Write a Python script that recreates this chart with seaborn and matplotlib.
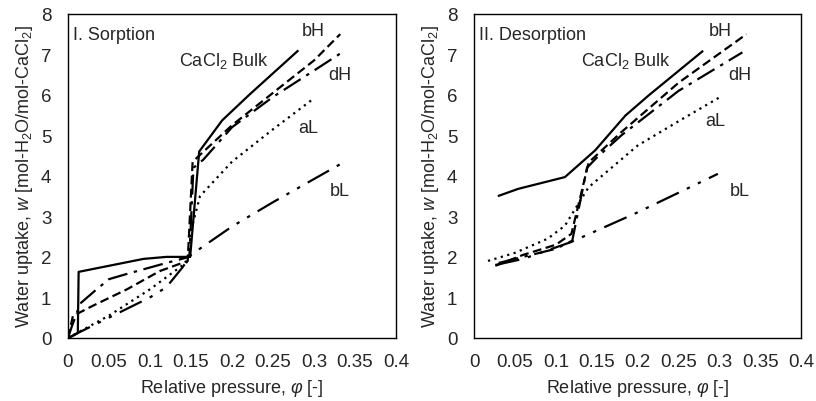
import matplotlib
matplotlib.use("Agg")
import matplotlib.pyplot as plt
import seaborn as sns

sns.set_style("white")
plt.rcParams['font.family'] = ['Liberation Sans', 'DejaVu Sans']
plt.rcParams['mathtext.fontset'] = 'custom'
plt.rcParams['mathtext.rm'] = 'Liberation Sans'
plt.rcParams['mathtext.it'] = 'Liberation Sans:italic'

# Sorption (panel I)
sorp_bulk_x = [0.0, 0.006, 0.012, 0.013, 0.092, 0.12, 0.149, 0.16, 0.188, 0.222, 0.281]
sorp_bulk_y = [0.0, 0.05, 0.12, 1.63, 1.95, 2.0, 2.0, 4.6, 5.37, 6.02, 7.1]
sorp_bH_x = [0.0, 0.006, 0.03, 0.072, 0.112, 0.146, 0.152, 0.2, 0.25, 0.3, 0.332]
sorp_bH_y = [0.0, 0.54, 0.79, 1.2, 1.65, 1.9, 4.35, 5.25, 6.05, 6.85, 7.5]
sorp_dH_x = [0.0, 0.005, 0.015, 0.035, 0.05, 0.072, 0.12, 0.148, 0.153, 0.165, 0.2, 0.25, 0.3, 0.335]
sorp_dH_y = [0.0, 0.3, 0.85, 1.2, 1.45, 1.58, 1.85, 2.0, 4.2, 4.4, 5.2, 5.95, 6.6, 7.06]
sorp_aL_x = [0.0, 0.05, 0.1, 0.145, 0.152, 0.161, 0.2, 0.25, 0.299]
sorp_aL_y = [0.0, 0.55, 1.2, 1.87, 2.8, 3.5, 4.35, 5.15, 5.9]
sorp_bL_x = [0.0, 0.05, 0.1, 0.12, 0.14, 0.15, 0.2, 0.25, 0.333]
sorp_bL_y = [0.0, 0.5, 1.0, 1.25, 1.75, 2.05, 2.75, 3.35, 4.3]

# Desorption (panel II)
desp_bulk_x = [0.029, 0.054, 0.111, 0.148, 0.185, 0.213, 0.28]
desp_bulk_y = [3.5, 3.68, 3.97, 4.63, 5.49, 5.98, 7.09]
desp_bH_x = [0.026, 0.06, 0.1, 0.119, 0.14, 0.18, 0.25, 0.333]
desp_bH_y = [1.78, 2.05, 2.3, 2.57, 4.33, 5.08, 6.3, 7.5]
desp_dH_x = [0.03, 0.06, 0.1, 0.12, 0.138, 0.15, 0.18, 0.25, 0.328]
desp_dH_y = [1.85, 2.0, 2.2, 2.4, 4.2, 4.45, 5.0, 6.1, 7.05]
desp_aL_x = [0.017, 0.05, 0.09, 0.111, 0.131, 0.14, 0.2, 0.25, 0.301]
desp_aL_y = [1.9, 2.1, 2.45, 2.77, 3.43, 3.72, 4.75, 5.35, 5.95]
desp_bL_x = [0.026, 0.06, 0.119, 0.2, 0.298]
desp_bL_y = [1.8, 1.95, 2.37, 3.1, 4.05]

xticks = [0, 0.05, 0.1, 0.15, 0.2, 0.25, 0.3, 0.35, 0.4]
xticklabels = ["0", "0.05", "0.1", "0.15", "0.2", "0.25", "0.3", "0.35", "0.4"]
yticks = [0, 1, 2, 3, 4, 5, 6, 7, 8]

styles = {
    "bulk": (0, ()),
    "bH": (0, (4, 2)),
    "dH": (0, (9, 3, 1.5, 3)),
    "aL": (0, (1, 2)),
    "bL": (0, (11, 4, 1.5, 4, 1.5, 4)),
}

panels = [
    ("I. Sorption", [(sorp_bulk_x, sorp_bulk_y, "bulk"), (sorp_bH_x, sorp_bH_y, "bH"),
                     (sorp_dH_x, sorp_dH_y, "dH"), (sorp_aL_x, sorp_aL_y, "aL"),
                     (sorp_bL_x, sorp_bL_y, "bL")],
     {"bulk": (0.19, 6.85), "bH": (0.299, 7.6), "dH": (0.332, 6.5), "aL": (0.293, 5.2), "bL": (0.332, 3.63)}),
    ("II. Desorption", [(desp_bulk_x, desp_bulk_y, "bulk"), (desp_bH_x, desp_bH_y, "bH"),
                        (desp_dH_x, desp_dH_y, "dH"), (desp_aL_x, desp_aL_y, "aL"),
                        (desp_bL_x, desp_bL_y, "bL")],
     {"bulk": (0.185, 6.85), "bH": (0.301, 7.6), "dH": (0.325, 6.5), "aL": (0.295, 5.36), "bL": (0.325, 3.63)}),
]

fig = plt.figure(figsize=(8.16, 4.02), dpi=100)
ax1 = fig.add_axes([0.0833, 0.157, 0.402, 0.806])
ax2 = fig.add_axes([0.581, 0.157, 0.401, 0.806])

names = {"bulk": "CaCl$_2$ Bulk", "bH": "bH", "dH": "dH", "aL": "aL", "bL": "bL"}

for ax, (title, series, label_pos) in zip([ax1, ax2], panels):
    for xs, ys, key in series:
        sns.lineplot(x=xs, y=ys, ax=ax, sort=False, estimator=None, color="black",
                     linewidth=1.6, linestyle=styles[key])
    for key, (tx, ty) in label_pos.items():
        ax.text(tx, ty, names[key], fontsize=13, ha="center", va="center")
    ax.text(0.006, 7.5, title, fontsize=13, ha="left", va="center")
    ax.set_xlim(0, 0.4)
    ax.set_ylim(0, 8)
    ax.set_xticks(xticks)
    ax.set_xticklabels(xticklabels)
    ax.set_yticks(yticks)
    ax.tick_params(direction="in", labelsize=13.5, length=4, width=1, pad=11, color="black")
    ax.tick_params(axis="y", pad=12)
    for s in ax.spines.values():
        s.set_color("black")
        s.set_linewidth(1)
    ax.set_xlabel(r"Relative pressure, $\varphi$ [-]", fontsize=13, labelpad=5)
    ax.set_ylabel(r"Water uptake, $w$ [mol-H$_2$O/mol-CaCl$_2$]", fontsize=13, labelpad=4)

fig.savefig("out.png", dpi=100)
